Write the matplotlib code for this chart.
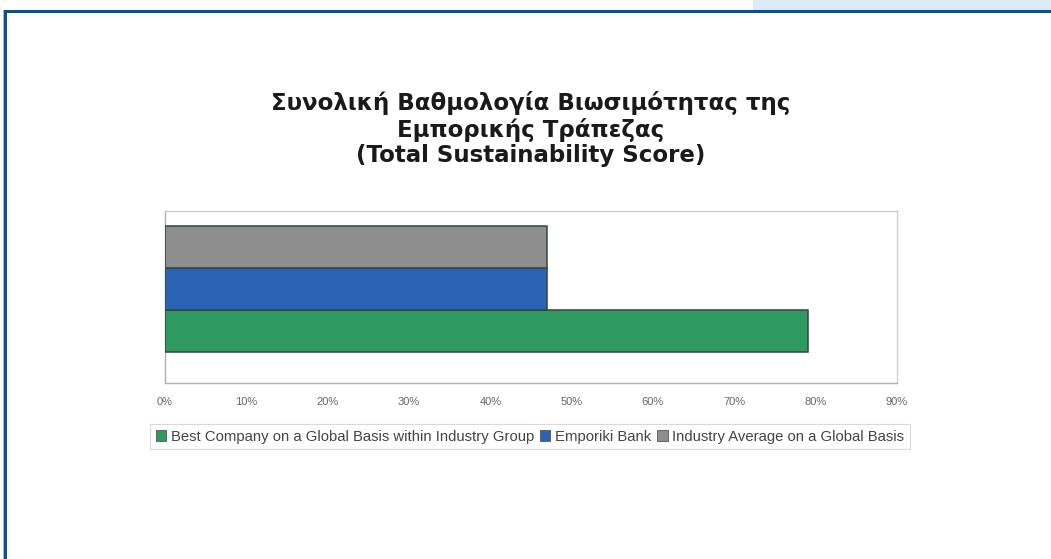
import matplotlib
matplotlib.use("Agg")
import matplotlib.pyplot as plt
from matplotlib.patches import Rectangle, Patch
import numpy as np

# ---- data ----
series_names = [
    "Best Company on a Global Basis within Industry Group",
    "Emporiki Bank",
    "Industry Average on a Global Basis",
]
series_values = [79, 47, 47]  # percent
series_colors = ["#2e9a62", "#2b63b5", "#8e8e8e"]
tick_values = [0, 10, 20, 30, 40, 50, 60, 70, 80, 90]
tick_labels = ["0%", "10%", "20%", "30%", "40%", "50%", "60%", "70%", "80%", "90%"]
title_lines = [
    "Συνολική Βαθμολογία Βιωσιμότητας της",
    "Εμπορικής Τράπεζας",
    "(Total Sustainability Score)",
]

W, H = 1051, 559
fig = plt.figure(figsize=(W / 100, H / 100), dpi=100)
fig.patch.set_facecolor("white")

# decorative frame
fig.add_artist(Rectangle((753 / W, 1 - 9.5 / H), (W - 753) / W, 9.5 / H,
                         transform=fig.transFigure, facecolor="#dcebf7",
                         edgecolor="none", zorder=0))
fig.add_artist(Rectangle((4 / W, 1 - 13 / H), (W - 4) / W, 3.5 / H,
                         transform=fig.transFigure, facecolor="#0b4f95",
                         edgecolor="none"))
fig.add_artist(Rectangle((4 / W, 0), 3.2 / W, 1 - 10 / H,
                         transform=fig.transFigure, facecolor="#0b4f95",
                         edgecolor="none"))
fig.add_artist(Rectangle((3.3 / W, 0), 1.0 / W, 1 - 10 / H,
                         transform=fig.transFigure, facecolor="#9ab8d8",
                         edgecolor="none"))

# axes
ax = fig.add_axes([165 / W, 1 - 383 / H, (897 - 165) / W, (383 - 211) / H])
offsets = [-1, 0, 1]
for name, val, col, off in zip(series_names, series_values, series_colors, offsets):
    ax.barh(off, val, height=1.0, color=col, edgecolor="#34443e",
            linewidth=1.1, label=name, zorder=3)

ax.set_xlim(tick_values[0], tick_values[-1])
ax.set_ylim(-2.24, 1.86)
ax.set_yticks([])
ax.set_xticks(tick_values)
ax.set_xticklabels(tick_labels, fontsize=8, color="#666666",
                   family="Liberation Sans")
ax.tick_params(axis="x", length=0, pad=10)
for s in ax.spines.values():
    s.set_color("#cfcfcf")
    s.set_linewidth(1.0)
ax.spines["left"].set_color("#b0b0b0")
ax.spines["bottom"].set_color("#b0b0b0")

# title
fig.text(531 / W, 1 - 129 / H, "\n".join(title_lines), ha="center", va="center",
         multialignment="center", fontsize=16.5, fontweight="bold",
         family="DejaVu Sans", color="#1a1a1a", linespacing=1.15)

# legend
handles = [Patch(facecolor=c, edgecolor="#555555", linewidth=0.6) for c in series_colors]
leg = fig.legend(handles, series_names, loc="center",
                 bbox_to_anchor=(530 / W, 1 - 436.5 / H), ncol=3,
                 frameon=True, fancybox=False,
                 prop={"family": "Liberation Sans", "size": 10.7},
                 handlelength=0.7, handleheight=0.7, handletextpad=0.3,
                 columnspacing=0.4, borderpad=0.4, borderaxespad=0)
leg.get_frame().set_edgecolor("#d0d0d0")
leg.get_frame().set_linewidth(0.8)
for t in leg.get_texts():
    t.set_color("#444444")

fig.savefig("out.png", dpi=100, facecolor="white")
